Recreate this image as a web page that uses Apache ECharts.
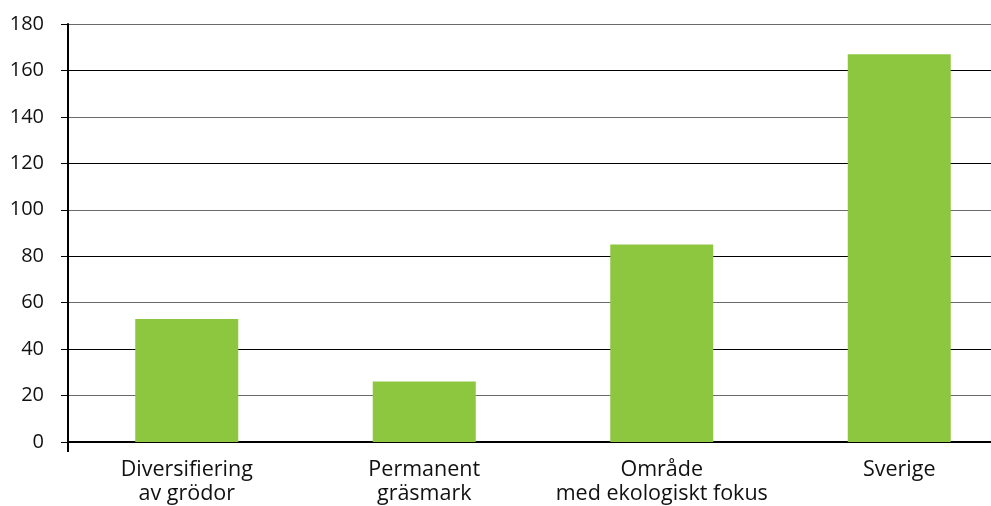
<!DOCTYPE html>
<html>
<head>
<meta charset="utf-8">
<script src="https://cdn.jsdelivr.net/npm/echarts@6/dist/echarts.min.js"></script>
<style>
  html, body { margin: 0; padding: 0; background: #fff; }
  #chart { width: 991px; height: 506px; }
</style>
</head>
<body>
<div id="chart"></div>
<script>
// Categories along the x-axis
const categories = [
  'Diversifiering\nav grödor',
  'Permanent\ngräsmark',
  'Område\nmed ekologiskt fokus',
  'Sverige'
];
// Bar heights
const values = [53, 26, 85, 167];
// Value axis range and step
const yMin = 0;
const yMax = 180;
const yStep = 20;

const FONT = '"Open Sans", "Noto Sans", sans-serif';

const chart = echarts.init(document.getElementById('chart'), null, { renderer: 'canvas' });
chart.setOption({
  animation: false,
  backgroundColor: '#ffffff',
  // plot runs slightly past the right edge so the bands spread wider
  grid: {
    left: 68, top: 24, right: -27, bottom: 64,
    containLabel: false,
    outerBoundsMode: 'none'
  },
  xAxis: {
    type: 'category',
    data: categories,
    boundaryGap: true,
    axisLine: { show: true, lineStyle: { color: '#000', width: 2 } },
    axisTick: {
      show: true,
      length: 10,
      interval: function (index) { return index === 0; },
      lineStyle: { color: '#000', width: 2 }
    },
    axisLabel: {
      color: '#111',
      fontFamily: FONT,
      fontSize: 21.5,
      lineHeight: 24,
      margin: 16,
      interval: 0
    },
    splitLine: { show: false }
  },
  yAxis: {
    type: 'value',
    min: yMin,
    max: yMax,
    interval: yStep,
    axisLine: { show: true, lineStyle: { color: '#000', width: 2 } },
    axisTick: { show: true, length: 7, lineStyle: { color: '#000', width: 1 } },
    axisLabel: {
      color: '#111',
      fontFamily: FONT,
      fontSize: 20,
      margin: 24
    },
    splitLine: {
      show: true,
      lineStyle: { color: ['#000000', '#6a6a6a'], width: 1 }
    }
  },
  series: [{
    type: 'bar',
    data: values,
    barWidth: 103,
    itemStyle: { color: '#8dc63f' }
  }]
});
</script>
</body>
</html>
